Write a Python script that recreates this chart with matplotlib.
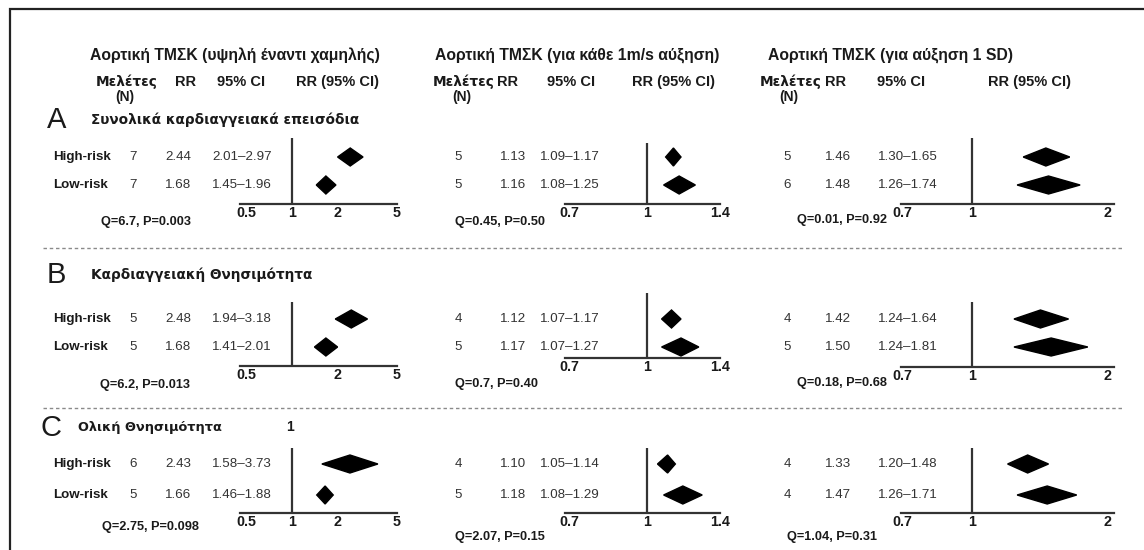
import matplotlib
matplotlib.use("Agg")
import matplotlib.pyplot as plt
from matplotlib.patches import Polygon

# ---- data -------------------------------------------------------------
col_titles = ["Αορτική ΤΜΣΚ (υψηλή έναντι χαμηλής)",
              "Αορτική ΤΜΣΚ (για κάθε 1m/s αύξηση)",
              "Αορτική ΤΜΣΚ (για αύξηση 1 SD)"]
section_letters = ["A", "B", "C"]
section_titles = ["Συνολικά καρδιαγγειακά επεισόδια",
                  "Καρδιαγγειακή Θνησιμότητα",
                  "Ολική Θνησιμότητα"]
groups = ["High-risk", "Low-risk"]

# [section][column] -> values for High-risk / Low-risk
n_studies = [[[7, 7], [5, 5], [5, 6]],
             [[5, 5], [4, 5], [4, 5]],
             [[6, 5], [4, 5], [4, 4]]]
rr = [[[2.44, 1.68], [1.13, 1.16], [1.46, 1.48]],
      [[2.48, 1.68], [1.12, 1.17], [1.42, 1.50]],
      [[2.43, 1.66], [1.10, 1.18], [1.33, 1.47]]]
ci_lo = [[[2.01, 1.45], [1.09, 1.08], [1.30, 1.26]],
         [[1.94, 1.41], [1.07, 1.07], [1.24, 1.24]],
         [[1.58, 1.46], [1.05, 1.08], [1.20, 1.26]]]
ci_hi = [[[2.97, 1.96], [1.17, 1.25], [1.65, 1.74]],
         [[3.18, 2.01], [1.17, 1.27], [1.64, 1.81]],
         [[3.73, 1.88], [1.14, 1.29], [1.48, 1.71]]]
het_text = [["Q=6.7, P=0.003", "Q=0.45, P=0.50", "Q=0.01, P=0.92"],
            ["Q=6.2, P=0.013", "Q=0.7, P=0.40", "Q=0.18, P=0.68"],
            ["Q=2.75, P=0.098", "Q=2.07, P=0.15", "Q=1.04, P=0.31"]]
xlims = [(0.45, 5.0), (0.686, 1.40), (0.695, 2.07)]
xticks = [[[0.5, 1, 2, 5], [0.7, 1, 1.4], [0.7, 1, 2]],
          [[0.5, 2, 5], [0.7, 1, 1.4], [0.7, 1, 2]],
          [[0.5, 1, 2, 5], [0.7, 1, 1.4], [0.7, 1, 2]]]
tick_labels = [[["0.5", "1", "2", "5"], ["0.7", "1", "1.4"], ["0.7", "1", "2"]],
               [["0.5", "2", "5"], ["0.7", "1", "1.4"], ["0.7", "1", "2"]],
               [["0.5", "1", "2", "5"], ["0.7", "1", "1.4"], ["0.7", "1", "2"]]]

# ---- layout (pixels) --------------------------------------------------
W, H = 1144, 550
col_axis_x = [(240, 397), (565, 720), (901, 1114)]
row_y = [(157, 185), (319, 347), (464, 495)]
axis_y = [[204, 204, 204], [366, 358, 367], [513, 513, 513]]
vtop = [[138, 143, 138], [302, 293, 302], [448, 448, 448]]
q_pos = [[(101, 222), (455, 222), (797, 220)],
         [(100, 385), (455, 384), (797, 383)],
         [(102, 527), (455, 537), (787, 537)]]
n_x = [133, 458, 787]
rr_x = [178, 513, 838]
ci_x = [242, 570, 908]
hdr_title_x = [90, 435, 768]
hdr_n_x = [127, 464, 791]
hdr_rr_x = [186, 508, 836]
hdr_ci_x = [241, 571, 901]
hdr_rrci_x = [338, 674, 1029]
sec_y = [120, 275, 428]

INK = "#1a1a1a"
SANS = "Liberation Sans"

fig = plt.figure(figsize=(W / 100, H / 100), dpi=100)
bg = fig.add_axes([0, 0, 1, 1])
bg.set_xlim(0, W)
bg.set_ylim(H, 0)
bg.axis("off")

# frame (left and top edges only)
bg.plot([10, 10, W], [H, 9, 9], color="#222222", lw=1.6, solid_joinstyle="miter")

# dotted separators
for y in [248, 408]:
    bg.plot([43, 1122], [y, y], color="#8a8a8a", lw=1.0, ls=(0, (2.5, 2)))

# column headers
for c in range(3):
    bg.text(hdr_title_x[c], 55, col_titles[c], fontsize=11.3, fontweight="bold",
            family=SANS, color=INK, ha="left", va="center")
    bg.text(hdr_n_x[c], 82, "Μελέτες", fontsize=9.8, fontweight="bold",
            family="DejaVu Sans", color=INK, ha="center", va="center")
    bg.text(hdr_n_x[c] - 2, 97, "(N)", fontsize=10, fontweight="bold",
            family=SANS, color=INK, ha="center", va="center")
    for x, s in [(hdr_rr_x[c], "RR"), (hdr_ci_x[c], "95% CI"),
                 (hdr_rrci_x[c], "RR (95% CI)")]:
        bg.text(x, 82, s, fontsize=10.5, fontweight="bold", family=SANS,
                color=INK, ha="center", va="center")

# sections
for s in range(3):
    bg.text(40 if s == 2 else 47, sec_y[s], section_letters[s], fontsize=21,
            family=SANS, color=INK, ha="left", va="center")
    bg.text(78 if s == 2 else 91, sec_y[s], section_titles[s],
            fontsize=9.8 if s < 2 else 9.3, fontweight="bold",
            family="DejaVu Sans", color=INK, ha="left", va="center")
    for g in range(2):
        y = row_y[s][g]
        bg.text(53, y, groups[g], fontsize=9.6, fontweight="bold",
                family=SANS, color=INK, ha="left", va="center")
        for c in range(3):
            bg.text(n_x[c], y, str(n_studies[s][c][g]), fontsize=9.6,
                    family=SANS, color="#333333", ha="center", va="center")
            bg.text(rr_x[c], y, f"{rr[s][c][g]:.2f}", fontsize=9.6,
                    family=SANS, color="#333333", ha="center", va="center")
            bg.text(ci_x[c], y,
                    f"{ci_lo[s][c][g]:.2f}\u2013{ci_hi[s][c][g]:.2f}",
                    fontsize=9.6, family=SANS, color="#333333",
                    ha="center", va="center")
    for c in range(3):
        bg.text(q_pos[s][c][0], q_pos[s][c][1], het_text[s][c], fontsize=9.2,
                fontweight="bold", family=SANS, color=INK,
                ha="left", va="center")

# stray "1" label next to section C title, as in the original
bg.text(290, 427, "1", fontsize=10, fontweight="bold", family=SANS,
        color=INK, ha="center", va="center")

# forest panels
for s in range(3):
    for c in range(3):
        x0, x1 = col_axis_x[c]
        yb, yt = axis_y[s][c], vtop[s][c]
        ax = fig.add_axes([x0 / W, 1 - yb / H, (x1 - x0) / W, (yb - yt) / H])
        ax.set_xscale("log")
        ax.set_xlim(*xlims[c])
        ax.set_ylim(yb, yt)
        ax.patch.set_alpha(0)
        for side in ["top", "right", "left"]:
            ax.spines[side].set_visible(False)
        ax.spines["bottom"].set_linewidth(1.6)
        ax.spines["bottom"].set_color("#333333")
        ax.axvline(1, color="#333333", lw=1.6)
        ax.set_yticks([])
        ax.set_xticks(xticks[s][c])
        ax.set_xticklabels(tick_labels[s][c])
        ax.xaxis.set_minor_locator(matplotlib.ticker.NullLocator())
        ax.tick_params(axis="x", length=0, pad=1.5, labelsize=10.3)
        for lab in ax.get_xticklabels():
            lab.set_fontweight("bold")
            lab.set_family(SANS)
            lab.set_color(INK)
        for g in range(2):
            y = row_y[s][g]
            lo, mid, hi = ci_lo[s][c][g], rr[s][c][g], ci_hi[s][c][g]
            hh = 9
            ax.add_patch(Polygon([(lo, y), (mid, y - hh), (hi, y), (mid, y + hh)],
                                 closed=True, color="black", clip_on=False))

fig.savefig("out.png", dpi=100)
